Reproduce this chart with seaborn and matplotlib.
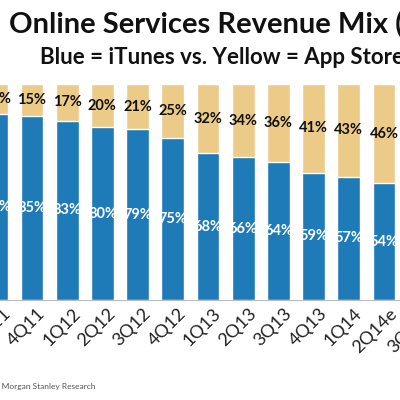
import numpy as np
import pandas as pd
import matplotlib
matplotlib.use("Agg")
import matplotlib.pyplot as plt
import seaborn as sns
from matplotlib.transforms import ScaledTranslation

# Quarters and revenue mix (% of online services revenue)
quarters = ["3Q11", "4Q11", "1Q12", "2Q12", "3Q12", "4Q12", "1Q13",
            "2Q13", "3Q13", "4Q13", "1Q14", "2Q14e", "3Q14e"]
itunes = [86, 85, 83, 80, 79, 75, 68, 66, 64, 59, 57, 54, 51]
app_store = [14, 15, 17, 20, 21, 25, 32, 34, 36, 41, 43, 46, 49]

blue = "#1f7ab8"
yellow = "#ecca88"

df = pd.DataFrame({"quarter": quarters, "iTunes": itunes, "App Store": app_store})
df["total"] = df["iTunes"] + df["App Store"]

sns.set_style("white")
plt.rcParams["font.family"] = ["Lato", "DejaVu Sans"]

fig = plt.figure(figsize=(4, 4), dpi=100)
# axes runs past the figure edges, the reference is a crop of a wider chart
ax = fig.add_axes([-20.8 / 400, 0.25, 457.6 / 400, 0.54])

# yellow stack = full bar, blue drawn over it
sns.barplot(data=df, x="quarter", y="total", order=quarters, color=yellow,
            width=0.65, saturation=1, ax=ax)
sns.barplot(data=df, x="quarter", y="iTunes", order=quarters, color=blue,
            width=0.65, saturation=1, ax=ax)

ax.set_xlim(-0.5, len(quarters) - 0.5)
ax.set_ylim(0, 100)
ax.set_xlabel("")
ax.set_ylabel("")
ax.set_yticks([])

# segment labels
for i, (b, y) in enumerate(zip(itunes, app_store)):
    ax.text(i, b / 2, f"{b}%", ha="center", va="center", color="white",
            fontsize=10.5, fontweight="bold")
    ax.text(i, b + y / 2, f"{y}%", ha="center", va="center", color="#111111",
            fontsize=10.5, fontweight="bold")

for s in ["top", "left", "right"]:
    ax.spines[s].set_visible(False)
ax.spines["bottom"].set_color("#bbbbbb")
ax.spines["bottom"].set_linewidth(0.8)

ax.tick_params(axis="x", length=0, pad=4)
offset = ScaledTranslation(5 / 100, 0, fig.dpi_scale_trans)
for lbl in ax.get_xticklabels():
    lbl.set_rotation(45)
    lbl.set_ha("right")
    lbl.set_va("top")
    lbl.set_rotation_mode("anchor")
    lbl.set_fontsize(13)
    lbl.set_color("#222222")
    lbl.set_transform(lbl.get_transform() + offset)

fig.text(9 / 400, 1 - 25 / 400, "Online Services Revenue Mix (%)",
         ha="left", va="center", fontsize=21, fontweight="bold", color="#111111")
fig.text(40 / 400, 1 - 58 / 400, "Blue = iTunes vs. Yellow = App Store",
         ha="left", va="center", fontsize=16, fontweight="bold", color="#111111")
fig.text(96 / 400, 1 - 387 / 400, "Source: Morgan Stanley Research",
         ha="right", va="center", fontsize=6, color="#555555")

fig.savefig("out.png", dpi=100)
